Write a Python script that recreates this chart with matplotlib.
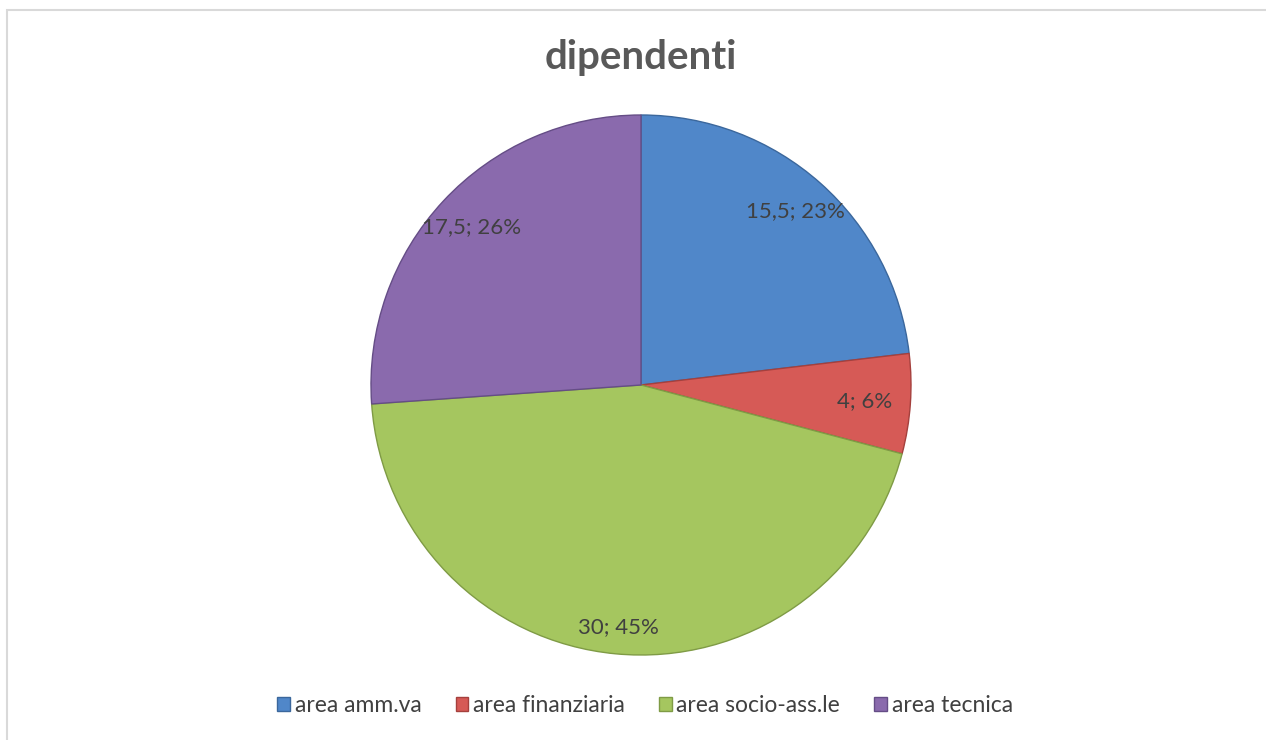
import numpy as np
import matplotlib.pyplot as plt
from matplotlib.patches import Rectangle

categories = ["area amm.va", "area finanziaria", "area socio-ass.le", "area tecnica"]
values = [15.5, 4, 30, 17.5]
value_labels = ["15,5", "4", "30", "17,5"]
colors = ["#5087c9", "#d65a56", "#a5c65f", "#8a6aad"]
edges = ["#3b679c", "#a5403d", "#7f9b45", "#654d86"]

plt.rcParams['font.family'] = ['Lato', 'DejaVu Sans']

W, H = 1266, 740
fig = plt.figure(figsize=(W / 100, H / 100), dpi=100)

# light frame around chart area
fig.patches.append(Rectangle((7 / W, -0.05), 1.2, (H - 10) / H + 0.05,
                             transform=fig.transFigure, fill=False,
                             edgecolor="#d9d9d9", linewidth=1.5))

ax = fig.add_axes([371 / W, 85 / H, 540 / W, 540 / H])
wedges, _ = ax.pie(values, colors=colors, startangle=90, counterclock=False,
                   radius=1.0, wedgeprops=dict(linewidth=1.0))
for w, ec in zip(wedges, edges):
    w.set_edgecolor(ec)
ax.set_xlim(-1, 1)
ax.set_ylim(-1, 1)
ax.set_aspect('equal')

total = sum(values)
dists = [0.86, 0.83, 0.90, 0.86]
for w, v, lab, d in zip(wedges, values, value_labels, dists):
    th = np.deg2rad((w.theta1 + w.theta2) / 2)
    pct = round(100 * v / total)
    ax.text(d * np.cos(th), d * np.sin(th), f"{lab}; {pct}%",
            ha='center', va='center', fontsize=16, color="#404040")

fig.text(641 / W, 1 - 58 / H, "dipendenti", ha='center', va='center',
         fontsize=29, fontweight='bold', color="#595959")

leg = fig.legend(wedges, categories, loc='center', bbox_to_anchor=(645 / W, 1 - 706 / H),
                 ncol=4, frameon=False, fontsize=16.5, handlelength=0.55, handleheight=0.55,
                 handletextpad=0.2, columnspacing=1.5)
for t in leg.get_texts():
    t.set_color("#404040")

fig.savefig("out.png", dpi=100)
